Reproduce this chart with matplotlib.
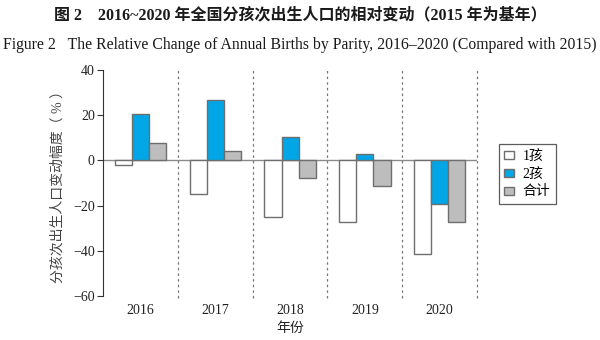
import numpy as np
import matplotlib.pyplot as plt

plt.rcParams['font.family'] = ['Liberation Serif', 'Noto Sans CJK SC']

years = ['2016', '2017', '2018', '2019', '2020']
first_child = [-1.9, -15.0, -25.0, -27.4, -41.2]
second_child = [20.4, 26.9, 10.6, 2.8, -19.4]
total = [7.8, 4.0, -7.9, -11.5, -27.4]
series_names = ['1孩', '2孩', '合计']

fig = plt.figure(figsize=(6, 3.4), dpi=100)
ax = fig.add_axes([0.172, 0.129, 0.623, 0.665])

x = np.arange(len(years))
w = 0.23
edge = '#6e6e6e'
ax.bar(x - w, first_child, w, color='white', edgecolor=edge, linewidth=1.0, label=series_names[0])
ax.bar(x, second_child, w, color='#00a6e6', edgecolor=edge, linewidth=1.0, label=series_names[1])
ax.bar(x + w, total, w, color='#bdbdbd', edgecolor=edge, linewidth=1.0, label=series_names[2])

ax.axhline(0, color='#8a8a8a', linewidth=1.0, zorder=0)
for d in np.arange(0.5, len(years), 1.0):
    ax.axvline(d, color='#777777', linestyle=(0, (2, 2.5)), linewidth=0.9, ymin=-0.01, clip_on=False)

ax.set_xlim(-0.5, len(years) - 0.5)
ax.set_ylim(-60, 40)
ax.set_yticks(np.arange(-60, 41, 20))
ax.set_yticklabels(['−60', '−40', '−20', '0', '20', '40'])
ax.set_xticks(x)
ax.set_xticklabels(years)

for s in ['top', 'right', 'bottom']:
    ax.spines[s].set_visible(False)
ax.spines['left'].set_color('#333333')
ax.tick_params(axis='y', length=4, width=0.8, color='#333333', labelsize=10, labelcolor='#222222', pad=2)
ax.tick_params(axis='x', length=0, labelsize=10, labelcolor='#222222', pad=6)

ax.set_xlabel('年份', fontsize=10, color='#222222', labelpad=3)
ax.set_ylabel('分孩次出生人口变动幅度（ % ）', fontsize=10, color='#444444', labelpad=6)

leg = ax.legend(loc='center left', bbox_to_anchor=(1.04, 0.54), fontsize=10,
                frameon=True, fancybox=False, edgecolor='#333333',
                handlelength=0.7, handleheight=0.5, handletextpad=0.6,
                borderpad=0.4, labelspacing=0.35)
leg.get_frame().set_linewidth(0.9)

fig.text(0.5, 0.955, '图 2　2016~2020 年全国分孩次出生人口的相对变动（2015 年为基年）',
         ha='center', va='center', fontsize=11.5, fontweight='bold', color='#1a1a1a',
         family=['Liberation Serif', 'Noto Sans CJK SC'])
fig.text(0.5, 0.868, 'Figure 2   The Relative Change of Annual Births by Parity, 2016–2020 (Compared with 2015)',
         ha='center', va='center', fontsize=11.3, color='#1a1a1a')

fig.savefig('out.png', dpi=100, facecolor='white')
